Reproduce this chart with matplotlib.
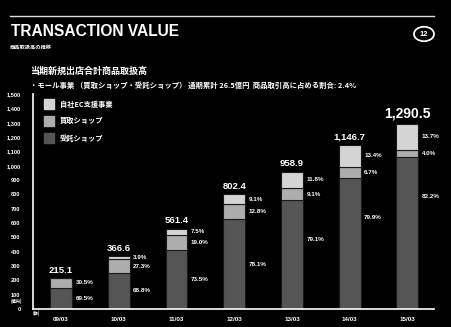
import matplotlib
matplotlib.use("Agg")
import matplotlib.pyplot as plt
from matplotlib.patches import Circle, Rectangle

plt.rcParams['font.family'] = ['Liberation Sans', 'Noto Sans CJK JP', 'DejaVu Sans']
JP = ['Noto Sans CJK JP', 'DejaVu Sans']

# data
periods = ['09/03', '10/03', '11/03', '12/03', '13/03', '14/03', '15/03']
totals = [215.1, 366.6, 561.4, 802.4, 958.9, 1146.7, 1290.5]
total_labels = ['215.1', '366.6', '561.4', '802.4', '958.9', '1,146.7', '1,290.5']
pct_consign = [69.5, 68.8, 73.5, 78.1, 79.1, 79.9, 82.2]   # 受託ショップ
pct_buy = [30.5, 27.3, 19.0, 12.8, 9.1, 6.7, 4.0]          # 買取ショップ
pct_ec = [0.0, 3.9, 7.5, 9.1, 11.8, 13.4, 13.7]            # 自社EC支援事業
series_names = ['自社EC支援事業', '買取ショップ', '受託ショップ']
yticks = list(range(0, 1501, 100))

W, H = 452, 327
c_dark, c_mid, c_light = '#555555', '#adadad', '#d4d4d4'

fig = plt.figure(figsize=(W / 100, H / 100), dpi=100, facecolor='black')

def px(x, y):
    return x / W, 1 - y / H

# header
fig.add_artist(plt.Line2D([10 / W, 434 / W], [1 - 16 / H] * 2, color='#dddddd', lw=1))
fig.text(*px(11, 32), 'TRANSACTION VALUE', color='white', fontsize=11.2,
         fontweight='bold', va='center', ha='left')
fig.text(*px(10, 47), '商品取扱高の推移', color='white', fontsize=3.8, family=JP,
         fontweight='bold', va='center', ha='left')
fig.add_artist(Circle(px(424, 34), 10 / W, transform=fig.transFigure,
                      fill=False, ec='white', lw=1.3))
fig.text(*px(424, 34.5), '12', color='white', fontsize=5.5, ha='center', va='center',
         fontweight='bold')
fig.text(*px(30, 71), '当期新規出店合計商品取扱高', color='white', fontsize=6.5, family=JP,
         fontweight='bold', va='center', ha='left')
fig.text(*px(30, 85), '・モール事業 （買取ショップ・受託ショップ） 通期累計 26.5億円  商品取引高に占める割合: 2.4%',
         color='white', fontsize=5.3, fontweight='bold', va='center', ha='left', family=JP)

# axes
ax = fig.add_axes([33 / W, 1 - 309 / H, 401 / W, 215 / H])
ax.set_facecolor('black')
ax.set_xlim(-0.485, 6.46)
ax.set_ylim(0, 1500)

x = list(range(len(periods)))
v_dark = [t * p / 100 for t, p in zip(totals, pct_consign)]
v_mid = [t * p / 100 for t, p in zip(totals, pct_buy)]
v_ec = [t * p / 100 for t, p in zip(totals, pct_ec)]
b_mid = v_dark
b_ec = [a + b for a, b in zip(v_dark, v_mid)]

bw = 0.38
ax.bar(x, v_dark, bw, color=c_dark, edgecolor='#1a1a1a', lw=0.8)
ax.bar(x, v_mid, bw, bottom=b_mid, color=c_mid, edgecolor='#1a1a1a', lw=0.8)
ax.bar(x, v_ec, bw, bottom=b_ec, color=c_light, edgecolor='#1a1a1a', lw=0.8)

lx = bw / 2 + 0.06
pfs = 4.5
for i in x:
    fs = 10.0 if i == len(x) - 1 else 6.8
    ax.text(i, totals[i] + 22, total_labels[i], ha='center', va='bottom', color='white',
            fontsize=fs, fontweight='bold', clip_on=False)
    # long dark segments: label sits nearer the top
    y_dark = v_dark[i] / 2
    if v_dark[i] > 700:
        y_dark = max(y_dark, v_dark[i] - 275)
    ax.text(i + lx, y_dark, f'{pct_consign[i]:.1f}%', color='white', fontsize=pfs,
            fontweight='bold', va='center', ha='left')
    y_mid = b_mid[i] + v_mid[i] / 2
    y_ec = b_ec[i] + v_ec[i] / 2
    if pct_ec[i] > 0:
        if y_ec - y_mid < 60:
            y_mid = y_ec - 60
        ax.text(i + lx, y_ec, f'{pct_ec[i]:.1f}%', color='white', fontsize=pfs,
                fontweight='bold', va='center', ha='left')
    ax.text(i + lx, y_mid, f'{pct_buy[i]:.1f}%', color='white', fontsize=pfs,
            fontweight='bold', va='center', ha='left')

for s in ['top', 'right']:
    ax.spines[s].set_visible(False)
for s in ['left', 'bottom']:
    ax.spines[s].set_color('white')
    ax.spines[s].set_linewidth(1.2)

ax.set_yticks(yticks)
ax.set_yticklabels([f'{v:,}' for v in yticks])
ax.set_xticks(x)
ax.set_xticklabels(periods)
ax.tick_params(axis='y', length=0, pad=9, colors='white', labelsize=4.1)
ax.tick_params(axis='x', length=0, pad=6, colors='white', labelsize=4.5)
for lab in ax.get_xticklabels() + ax.get_yticklabels():
    lab.set_fontweight('bold')

fig.text(*px(16, 301), '(億円)', color='white', fontsize=3.0, ha='center', va='center',
         fontweight='bold', family=JP)
fig.text(*px(36, 313), '(期)', color='white', fontsize=3.0, ha='center', va='center',
         fontweight='bold', family=JP)

# legend
for k, (name, c) in enumerate(zip(series_names, [c_light, c_mid, c_dark])):
    yy = 104 + 17 * k
    fig.add_artist(Rectangle(px(44, yy + 5), 10 / W, 10 / H, transform=fig.transFigure,
                             color=c))
    fig.text(*px(60, yy), name, color='white', fontsize=5.2, fontweight='bold',
             va='center', ha='left', family=JP)

fig.savefig('out.png', dpi=100, facecolor='black')
